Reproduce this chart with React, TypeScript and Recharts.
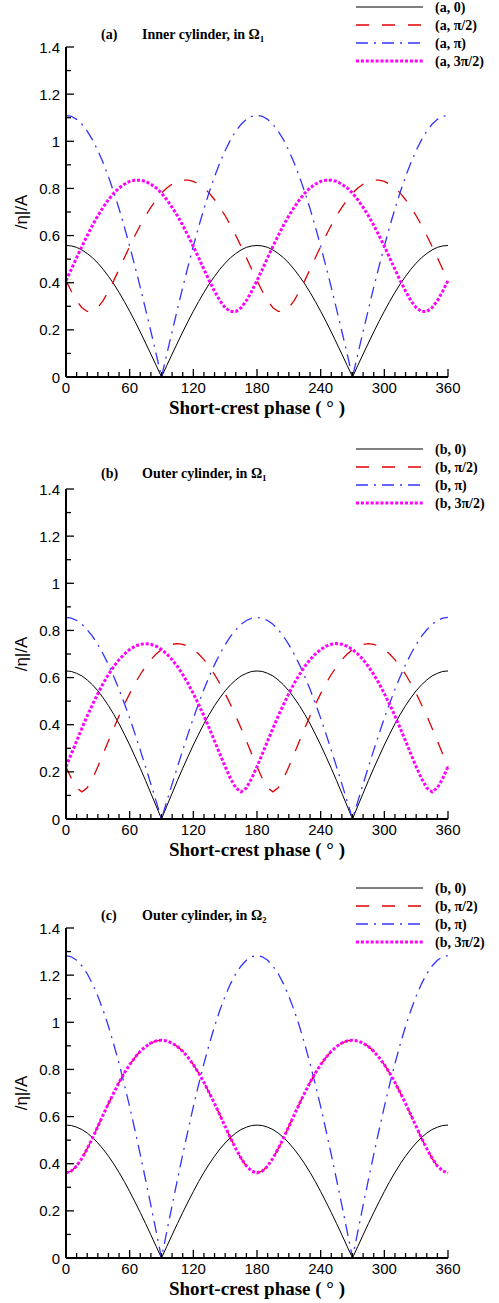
import React from 'react';
import { LineChart, Line, XAxis, YAxis, Legend, Label } from 'recharts';

const SANS = '"Liberation Sans", Arial, sans-serif';
const SERIF = '"Liberation Serif", "Times New Roman", serif';

const phase = [
  0, 5, 10, 15, 20, 25, 30, 35, 40, 45, 50, 55, 60, 65, 70, 75, 80, 85, 90,
  95, 100, 105, 110, 115, 120, 125, 130, 135, 140, 145, 150, 155, 160, 165, 170, 175, 180,
  185, 190, 195, 200, 205, 210, 215, 220, 225, 230, 235, 240, 245, 250, 255, 260, 265, 270,
  275, 280, 285, 290, 295, 300, 305, 310, 315, 320, 325, 330, 335, 340, 345, 350, 355, 360,
];

// panel (a) inner cylinder, Omega 1
const aZero = [
  0.558, 0.556, 0.550, 0.539, 0.524, 0.506, 0.483, 0.457, 0.427, 0.395, 0.359, 0.320, 0.279, 0.236, 0.191, 0.144, 0.097, 0.049, 0,
  0.049, 0.097, 0.144, 0.191, 0.236, 0.279, 0.320, 0.359, 0.395, 0.427, 0.457, 0.483, 0.506, 0.524, 0.539, 0.550, 0.556, 0.558,
  0.556, 0.550, 0.539, 0.524, 0.506, 0.483, 0.457, 0.427, 0.395, 0.359, 0.320, 0.279, 0.236, 0.191, 0.144, 0.097, 0.049, 0,
  0.049, 0.097, 0.144, 0.191, 0.236, 0.279, 0.320, 0.359, 0.395, 0.427, 0.457, 0.483, 0.506, 0.524, 0.539, 0.550, 0.556, 0.558,
];
const aHalfPi = [
  0.409, 0.364, 0.324, 0.294, 0.278, 0.278, 0.294, 0.324, 0.364, 0.409, 0.457, 0.506, 0.554, 0.600, 0.644, 0.684, 0.720, 0.752, 0.780,
  0.802, 0.818, 0.830, 0.835, 0.835, 0.830, 0.818, 0.802, 0.780, 0.752, 0.720, 0.684, 0.644, 0.600, 0.554, 0.506, 0.457, 0.409,
  0.364, 0.324, 0.294, 0.278, 0.278, 0.294, 0.324, 0.364, 0.409, 0.457, 0.506, 0.554, 0.600, 0.644, 0.684, 0.720, 0.752, 0.780,
  0.802, 0.818, 0.830, 0.835, 0.835, 0.830, 0.818, 0.802, 0.780, 0.752, 0.720, 0.684, 0.644, 0.600, 0.554, 0.506, 0.457, 0.409,
];
const aPi = [
  1.110, 1.106, 1.093, 1.072, 1.043, 1.006, 0.961, 0.909, 0.850, 0.785, 0.714, 0.637, 0.555, 0.469, 0.380, 0.287, 0.193, 0.097, 0,
  0.097, 0.193, 0.287, 0.380, 0.469, 0.555, 0.637, 0.714, 0.785, 0.850, 0.909, 0.961, 1.006, 1.043, 1.072, 1.093, 1.106, 1.110,
  1.106, 1.093, 1.072, 1.043, 1.006, 0.961, 0.909, 0.850, 0.785, 0.714, 0.637, 0.555, 0.469, 0.380, 0.287, 0.193, 0.097, 0,
  0.097, 0.193, 0.287, 0.380, 0.469, 0.555, 0.637, 0.714, 0.785, 0.850, 0.909, 0.961, 1.006, 1.043, 1.072, 1.093, 1.106, 1.110,
];
const aThreeHalfPi = [
  0.409, 0.457, 0.506, 0.554, 0.600, 0.644, 0.684, 0.720, 0.752, 0.780, 0.802, 0.818, 0.830, 0.835, 0.835, 0.830, 0.818, 0.802, 0.780,
  0.752, 0.720, 0.684, 0.644, 0.600, 0.554, 0.506, 0.457, 0.409, 0.364, 0.324, 0.294, 0.278, 0.278, 0.294, 0.324, 0.364, 0.409,
  0.457, 0.506, 0.554, 0.600, 0.644, 0.684, 0.720, 0.752, 0.780, 0.802, 0.818, 0.830, 0.835, 0.835, 0.830, 0.818, 0.802, 0.780,
  0.752, 0.720, 0.684, 0.644, 0.600, 0.554, 0.506, 0.457, 0.409, 0.364, 0.324, 0.294, 0.278, 0.278, 0.294, 0.324, 0.364, 0.409,
];

// panel (b) outer cylinder, Omega 1
const bZero = [
  0.628, 0.626, 0.618, 0.607, 0.590, 0.569, 0.544, 0.514, 0.481, 0.444, 0.404, 0.360, 0.314, 0.265, 0.215, 0.163, 0.109, 0.055, 0,
  0.055, 0.109, 0.163, 0.215, 0.265, 0.314, 0.360, 0.404, 0.444, 0.481, 0.514, 0.544, 0.569, 0.590, 0.607, 0.618, 0.626, 0.628,
  0.626, 0.618, 0.607, 0.590, 0.569, 0.544, 0.514, 0.481, 0.444, 0.404, 0.360, 0.314, 0.265, 0.215, 0.163, 0.109, 0.055, 0,
  0.055, 0.109, 0.163, 0.215, 0.265, 0.314, 0.360, 0.404, 0.444, 0.481, 0.514, 0.544, 0.569, 0.590, 0.607, 0.618, 0.626, 0.628,
];
const bHalfPi = [
  0.222, 0.172, 0.132, 0.115, 0.132, 0.172, 0.222, 0.276, 0.331, 0.385, 0.437, 0.486, 0.532, 0.575, 0.613, 0.647, 0.676, 0.700, 0.719,
  0.733, 0.741, 0.744, 0.741, 0.733, 0.719, 0.700, 0.676, 0.647, 0.613, 0.575, 0.532, 0.486, 0.437, 0.385, 0.331, 0.276, 0.222,
  0.172, 0.132, 0.115, 0.132, 0.172, 0.222, 0.276, 0.331, 0.385, 0.437, 0.486, 0.532, 0.575, 0.613, 0.647, 0.676, 0.700, 0.719,
  0.733, 0.741, 0.744, 0.741, 0.733, 0.719, 0.700, 0.676, 0.647, 0.613, 0.575, 0.532, 0.486, 0.437, 0.385, 0.331, 0.276, 0.222,
];
const bPi = [
  0.855, 0.852, 0.842, 0.826, 0.803, 0.775, 0.740, 0.700, 0.655, 0.605, 0.550, 0.490, 0.428, 0.361, 0.292, 0.221, 0.148, 0.075, 0,
  0.075, 0.148, 0.221, 0.292, 0.361, 0.428, 0.490, 0.550, 0.605, 0.655, 0.700, 0.740, 0.775, 0.803, 0.826, 0.842, 0.852, 0.855,
  0.852, 0.842, 0.826, 0.803, 0.775, 0.740, 0.700, 0.655, 0.605, 0.550, 0.490, 0.428, 0.361, 0.292, 0.221, 0.148, 0.075, 0,
  0.075, 0.148, 0.221, 0.292, 0.361, 0.428, 0.490, 0.550, 0.605, 0.655, 0.700, 0.740, 0.775, 0.803, 0.826, 0.842, 0.852, 0.855,
];
const bThreeHalfPi = [
  0.222, 0.276, 0.331, 0.385, 0.437, 0.486, 0.532, 0.575, 0.613, 0.647, 0.676, 0.700, 0.719, 0.733, 0.741, 0.744, 0.741, 0.733, 0.719,
  0.700, 0.676, 0.647, 0.613, 0.575, 0.532, 0.486, 0.437, 0.385, 0.331, 0.276, 0.222, 0.172, 0.132, 0.115, 0.132, 0.172, 0.222,
  0.276, 0.331, 0.385, 0.437, 0.486, 0.532, 0.575, 0.613, 0.647, 0.676, 0.700, 0.719, 0.733, 0.741, 0.744, 0.741, 0.733, 0.719,
  0.700, 0.676, 0.647, 0.613, 0.575, 0.532, 0.486, 0.437, 0.385, 0.331, 0.276, 0.222, 0.172, 0.132, 0.115, 0.132, 0.172, 0.222,
];

// panel (c) outer cylinder, Omega 2
const cZero = [
  0.564, 0.562, 0.555, 0.545, 0.530, 0.511, 0.488, 0.462, 0.432, 0.399, 0.363, 0.324, 0.282, 0.238, 0.193, 0.146, 0.098, 0.049, 0,
  0.049, 0.098, 0.146, 0.193, 0.238, 0.282, 0.324, 0.363, 0.399, 0.432, 0.462, 0.488, 0.511, 0.530, 0.545, 0.555, 0.562, 0.564,
  0.562, 0.555, 0.545, 0.530, 0.511, 0.488, 0.462, 0.432, 0.399, 0.363, 0.324, 0.282, 0.238, 0.193, 0.146, 0.098, 0.049, 0,
  0.049, 0.098, 0.146, 0.193, 0.238, 0.282, 0.324, 0.363, 0.399, 0.432, 0.462, 0.488, 0.511, 0.530, 0.545, 0.555, 0.562, 0.564,
];
const cHalfPi = [
  0.361, 0.369, 0.390, 0.423, 0.464, 0.509, 0.558, 0.607, 0.655, 0.701, 0.745, 0.785, 0.820, 0.851, 0.877, 0.897, 0.912, 0.921, 0.924,
  0.921, 0.912, 0.897, 0.877, 0.851, 0.820, 0.785, 0.745, 0.701, 0.655, 0.607, 0.558, 0.509, 0.464, 0.423, 0.390, 0.369, 0.361,
  0.369, 0.390, 0.423, 0.464, 0.509, 0.558, 0.607, 0.655, 0.701, 0.745, 0.785, 0.820, 0.851, 0.877, 0.897, 0.912, 0.921, 0.924,
  0.921, 0.912, 0.897, 0.877, 0.851, 0.820, 0.785, 0.745, 0.701, 0.655, 0.607, 0.558, 0.509, 0.464, 0.423, 0.390, 0.369, 0.361,
];
const cPi = [
  1.283, 1.278, 1.263, 1.239, 1.206, 1.163, 1.111, 1.051, 0.983, 0.907, 0.825, 0.736, 0.642, 0.542, 0.439, 0.332, 0.223, 0.112, 0,
  0.112, 0.223, 0.332, 0.439, 0.542, 0.642, 0.736, 0.825, 0.907, 0.983, 1.051, 1.111, 1.163, 1.206, 1.239, 1.263, 1.278, 1.283,
  1.278, 1.263, 1.239, 1.206, 1.163, 1.111, 1.051, 0.983, 0.907, 0.825, 0.736, 0.642, 0.542, 0.439, 0.332, 0.223, 0.112, 0,
  0.112, 0.223, 0.332, 0.439, 0.542, 0.642, 0.736, 0.825, 0.907, 0.983, 1.051, 1.111, 1.163, 1.206, 1.239, 1.263, 1.278, 1.283,
];
const cThreeHalfPi = [
  0.361, 0.369, 0.390, 0.423, 0.464, 0.509, 0.558, 0.607, 0.655, 0.701, 0.745, 0.785, 0.820, 0.851, 0.877, 0.897, 0.912, 0.921, 0.924,
  0.921, 0.912, 0.897, 0.877, 0.851, 0.820, 0.785, 0.745, 0.701, 0.655, 0.607, 0.558, 0.509, 0.464, 0.423, 0.390, 0.369, 0.361,
  0.369, 0.390, 0.423, 0.464, 0.509, 0.558, 0.607, 0.655, 0.701, 0.745, 0.785, 0.820, 0.851, 0.877, 0.897, 0.912, 0.921, 0.924,
  0.921, 0.912, 0.897, 0.877, 0.851, 0.820, 0.785, 0.745, 0.701, 0.655, 0.607, 0.558, 0.509, 0.464, 0.423, 0.390, 0.369, 0.361,
];

const xTicks = [
  0, 10, 20, 30, 40, 50, 60, 70, 80, 90, 100, 110, 120, 130, 140, 150, 160, 170, 180,
  190, 200, 210, 220, 230, 240, 250, 260, 270, 280, 290, 300, 310, 320, 330, 340, 350, 360,
];
const xTickLabels: Record<number, string> = { 0: '0', 60: '60', 120: '120', 180: '180', 240: '240', 300: '300', 360: '360' };

const yTicks = [0, 0.1, 0.2, 0.3, 0.4, 0.5, 0.6, 0.7, 0.8, 0.9, 1, 1.1, 1.2, 1.3, 1.4];
const yTickLabels: Record<string, string> = { '0': '0', '0.2': '0.2', '0.4': '0.4', '0.6': '0.6', '0.8': '0.8', '1': '1', '1.2': '1.2', '1.4': '1.4' };

const series = [
  { key: 's0', label: '0', color: '#000000', width: 1, dash: undefined as string | undefined },
  { key: 's1', label: 'π/2', color: '#dd0000', width: 1.3, dash: '13 13' },
  { key: 's2', label: 'π', color: '#3333ff', width: 1.3, dash: '12 6 2 6' },
  { key: 's3', label: '3π/2', color: '#ff00ff', width: 3, dash: '3 1.9' },
];

const makeRows = (s0: number[], s1: number[], s2: number[], s3: number[]) =>
  phase.map((p, i) => ({ phase: p, s0: s0[i], s1: s1[i], s2: s2[i], s3: s3[i] }));

const XTick = (props: any) => {
  const { x, y, payload } = props;
  const label = xTickLabels[payload.value];
  const axisY = y - 4;
  return (
    <g>
      <line x1={x} x2={x} y1={axisY} y2={axisY - (label ? 8 : 5)} stroke="#000" strokeWidth={1.3} />
      {label && (
        <text x={x} y={axisY + 16} textAnchor="middle" fontFamily={SANS} fontSize={15} fill="#000">
          {label}
        </text>
      )}
    </g>
  );
};

const YTick = (props: any) => {
  const { x, y, payload } = props;
  const label = yTickLabels[String(Math.round(payload.value * 10) / 10)];
  const axisX = x + 6;
  return (
    <g>
      <line x1={axisX} x2={axisX + (label ? 8 : 5)} y1={y} y2={y} stroke="#000" strokeWidth={1.3} />
      {label && (
        <text x={x} y={y + 5.5} textAnchor="end" fontFamily={SANS} fontSize={15} fill="#000">
          {label}
        </text>
      )}
    </g>
  );
};

const LegendBox = ({ letter }: { letter: string }) => (
  <svg width={149} height={72} style={{ display: 'block' }}>
    {series.map((s, i) => {
      const cy = 7 + i * 18;
      return (
        <g key={s.key}>
          <line
            x1={6}
            x2={73}
            y1={cy}
            y2={cy}
            style={{ stroke: s.color, strokeWidth: i === 0 ? 1 : s.width + 0.2, strokeDasharray: s.dash }}
          />
          <text x={85} y={cy + 5} fontFamily={SERIF} fontWeight="bold" fontSize={14} fill="#000">
            {`(${letter}, ${s.label})`}
          </text>
        </g>
      );
    })}
  </svg>
);

type PanelProps = {
  top: number;
  rows: any[];
  tag: string;
  title: string;
  sub: string;
  letter: string;
  tagY: number;
};

const Panel = ({ top, rows, tag, title, sub, letter, tagY }: PanelProps) => (
  <div style={{ position: 'absolute', left: 0, top }}>
    <LineChart width={499} height={427} data={rows} margin={{ top: 47, right: 51, bottom: 0, left: 16 }}>
      <XAxis
        dataKey="phase"
        type="number"
        domain={[0, 360]}
        ticks={xTicks}
        interval={0}
        tick={<XTick />}
        tickLine={false}
        tickSize={0}
        tickMargin={4}
        axisLine={{ stroke: '#000', strokeWidth: 2 }}
        height={50}
      >
        <Label
          value="Short-crest phase ( ° )"
          position="insideBottom"
          offset={13}
          fill="#000"
          fontFamily={SERIF}
          fontWeight="bold"
          fontSize={19}
        />
      </XAxis>
      <YAxis
        type="number"
        domain={[0, 1.4]}
        ticks={yTicks}
        interval={0}
        tick={<YTick />}
        tickLine={false}
        tickSize={0}
        tickMargin={6}
        axisLine={{ stroke: '#000', strokeWidth: 2 }}
        width={50}
      />
      <Legend
        verticalAlign="middle"
        align="center"
        layout="horizontal"
        content={() => <LegendBox letter={letter} />}
        wrapperStyle={{ left: 350, top: 0, width: 149, height: 72 }}
      />
      {series.map((s) => (
        <Line
          key={s.key}
          type="linear"
          dataKey={s.key}
          stroke={s.color}
          strokeWidth={s.width}
          strokeDasharray={s.dash}
          dot={false}
          activeDot={false}
          isAnimationActive={false}
        />
      ))}
      <text x={101} y={tagY} fontFamily={SERIF} fontWeight="bold" fontSize={14} fill="#000">
        {tag}
      </text>
      <text x={142} y={tagY} fontFamily={SERIF} fontWeight="bold" fontSize={14} fill="#000">
        {title}
        <tspan fontSize={9} dy={3}>{sub}</tspan>
      </text>
      <text
        x={27}
        y={212}
        transform="rotate(-90 27 212)"
        textAnchor="middle"
        fontFamily={SANS}
        fontSize={17}
        fill="#000"
      >
        /η|/A
      </text>
    </LineChart>
  </div>
);

export default function App() {
  return (
    <div style={{ position: 'absolute', left: 0, top: 0, width: 499, height: 1303, overflow: 'hidden', background: '#fff' }}>
      <Panel top={0} rows={makeRows(aZero, aHalfPi, aPi, aThreeHalfPi)} tag="(a)" title="Inner cylinder, in Ω" sub="1" letter="a" tagY={39} />
      <Panel top={442} rows={makeRows(bZero, bHalfPi, bPi, bThreeHalfPi)} tag="(b)" title="Outer cylinder, in Ω" sub="1" letter="b" tagY={36} />
      <Panel top={881} rows={makeRows(cZero, cHalfPi, cPi, cThreeHalfPi)} tag="(c)" title="Outer cylinder, in Ω" sub="2" letter="b" tagY={39} />
    </div>
  );
}
